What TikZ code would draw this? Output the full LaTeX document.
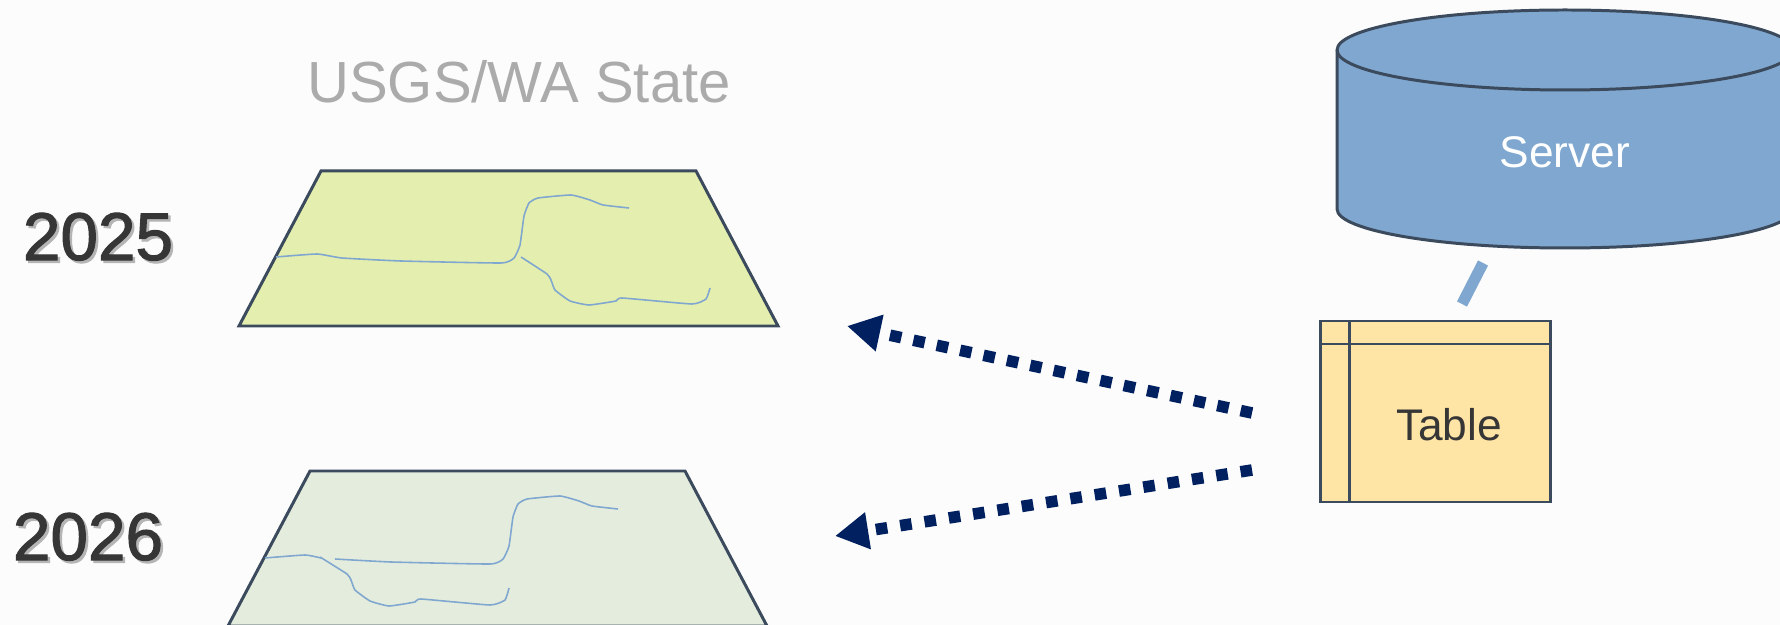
\documentclass[tikz,border=0pt]{standalone}
\usepackage{fontspec}
\setmainfont{Liberation Sans}
\newfontfamily\yearfont[FakeBold=1.6]{Liberation Sans}
\usetikzlibrary{arrows.meta}
\definecolor{pagebg}{HTML}{FCFCFC}
\definecolor{edgeblue}{HTML}{3B4A5C}
\definecolor{mapgreen}{HTML}{E4EEAE}
\definecolor{mapsage}{HTML}{E4ECDD}
\definecolor{riverblue}{HTML}{7FA7CF}
\definecolor{tableyellow}{HTML}{FFE5A5}
\definecolor{arrownavy}{HTML}{002060}
\definecolor{labelgray}{HTML}{ABABAB}
\definecolor{yeardark}{HTML}{363636}
\definecolor{yearshadow}{HTML}{B5B5B5}
\newcommand{\yeartext}[1]{\makebox[0pt][l]{\hspace{0.7pt}\raisebox{-0.7pt}{\color{yearshadow}#1}}#1}
\tikzset{
  mapplane/.style={draw=edgeblue, line width=0.85pt, line join=miter},
  river/.style={draw=riverblue, line width=0.45pt},
  outline/.style={draw=edgeblue, line width=0.85pt},
  feed/.style={draw=arrownavy, line width=3.3pt, -{Triangle[length=9.5pt,width=10pt]}},
  yearlabel/.style={font=\fontsize{19.2}{22}\selectfont\yearfont, text=yeardark}
}
\begin{document}
\begin{tikzpicture}[x=0.01cm, y=-0.01cm]
\useasboundingbox (0,0) rectangle (1780,625);
\fill[pagebg] (0,0) rectangle (1780,625);
% title and years
\node[font=\fontsize{16.5}{20}\selectfont, text=labelgray] (title) at (519,82) {USGS/WA State};
\node[yearlabel] (yearA) at (98,238) {\yeartext{2025}};
\node[yearlabel] (yearB) at (88,538) {\yeartext{2026}};
% upper map
\filldraw[mapplane, fill=mapgreen] (321,171) -- (696,171) -- (778,326) -- (239,326) -- cycle;
\draw[river] plot[smooth, tension=0.25] coordinates {(276,257) (317,254) (342,258) (401,261) (501,263) (514,258) (520,245) (524,216) (529,203) (538,198) (571,195) (590,200) (603,205) (629,208)};
\draw[river] plot[smooth, tension=0.25] coordinates {(521,257) (547,274) (551,280) (555,290) (570,301) (589,305) (616,301) (622,298) (692,304) (706,299) (710,288)};
% lower map
\filldraw[mapplane, fill=mapsage] (310,471) -- (685,471) -- (767,626) -- (228,626) -- cycle;
\draw[river] plot[smooth, tension=0.25] coordinates {(265,558) (305,555) (321,558)};
\draw[river] plot[smooth, tension=0.25] coordinates {(335,559) (391,562) (490,564) (503,559) (509,546) (513,517) (518,504) (527,499) (560,496) (579,501) (592,506) (618,509)};
\draw[river] plot[smooth, tension=0.25] coordinates {(320,557) (347,574) (351,580) (355,590) (370,601) (389,606) (415,602) (421,599) (490,605) (505,600) (509,588)};
% server
\filldraw[outline, fill=riverblue] (1337,50) -- (1337,209) arc[start angle=180, end angle=0, x radius=228, y radius=39] -- (1793,50) arc[start angle=0, end angle=-180, x radius=228, y radius=40] -- cycle;
\draw[outline] (1337,50) arc[start angle=180, end angle=0, x radius=228, y radius=40];
\node[font=\fontsize{12.6}{15}\selectfont, text=white] (server) at (1565,152) {Server};
% table
\coordinate (tableNW) at (1320,321);
\coordinate (tableSE) at (1550,502);
\filldraw[outline, fill=tableyellow] (tableNW) rectangle (tableSE);
\draw[outline] (1349,321) -- (1349,502);
\draw[outline] (1320,344) -- (1550,344);
\node[font=\fontsize{12.6}{15}\selectfont, text=yeardark] (table) at (1449,425) {Table};
% links
\coordinate (serverFoot) at (1483,263);
\coordinate (tableTop) at (1462,304);
\draw[draw=riverblue, line width=3.2pt] (serverFoot) -- (tableTop);
\coordinate (feedA) at (1252,413);
\coordinate (feedAend) at (847,326);
\coordinate (feedB) at (1252,470);
\coordinate (feedBend) at (835,536);
\draw[feed, dash pattern=on 3.3pt off 3.5pt] (feedA) -- (feedAend);
\draw[feed, dash pattern=on 3.3pt off 3.7pt] (feedB) -- (feedBend);
\end{tikzpicture}
\end{document}
